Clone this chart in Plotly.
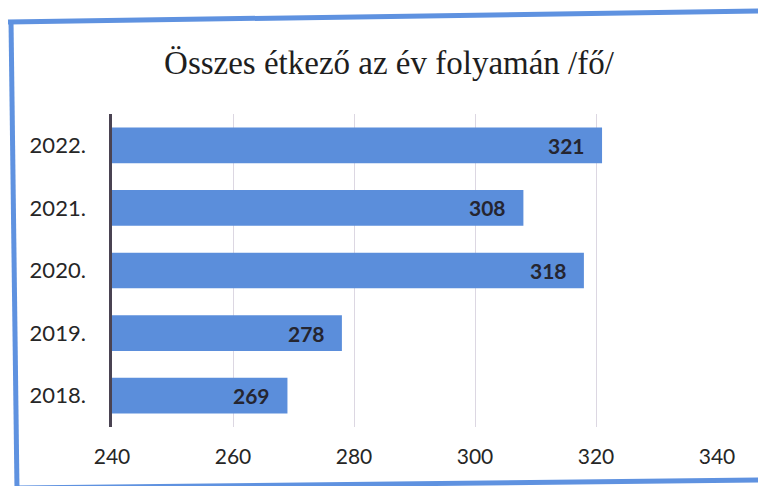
import plotly.graph_objects as go

# Data
years = ["2018.", "2019.", "2020.", "2021.", "2022."]
diners = [269, 278, 318, 308, 321]
x_ticks = [240, 260, 280, 300, 320, 340]

W, H = 758, 486
L, R, T, B = 112, 41, 114, 59

BAR = "#5b8edb"
FRAME = "#5f92e0"
TEXT = "#262626"

pos = list(range(len(years)))


def px(x):
    return (x - L) / (W - L - R)


def py(y):
    return 1 - (y - T) / (H - T - B)


fig = go.Figure(
    go.Bar(
        y=pos,
        x=diners,
        orientation="h",
        marker=dict(color=BAR, line=dict(width=0)),
        width=0.57,
        hoverinfo="skip",
    )
)

# value labels at the inner end of each bar
for p, v in zip(pos, diners):
    fig.add_annotation(
        x=v, y=p, xref="x", yref="y",
        text=f"<b>{v}</b>", showarrow=False,
        xanchor="right", xshift=-15,
        font=dict(family="Lato", size=21, color="#252530"),
    )

# blue frame around the chart
frame = dict(type="line", xref="paper", yref="paper",
             line=dict(color=FRAME, width=5), layer="above")
fig.add_shape(x0=px(8), y0=py(22), x1=px(760), y1=py(11), **frame)
fig.add_shape(x0=px(11), y0=py(20), x1=px(17), y1=py(490), **frame)
fig.add_shape(x0=px(15), y0=py(488), x1=px(760), y1=py(480), **frame)

fig.update_layout(
    width=W, height=H,
    margin=dict(l=L, r=R, t=T, b=B),
    paper_bgcolor="white",
    plot_bgcolor="white",
    showlegend=False,
    title=dict(
        text="Összes étkező az év folyamán /fő/",
        font=dict(family="Liberation Serif", size=33, color="#1e1e1e"),
        xref="container", yref="container",
        x=389 / W, y=1 - 62 / H, xanchor="center", yanchor="middle",
    ),
    xaxis=dict(
        range=[240, 340],
        tickvals=x_ticks,
        ticktext=[str(t) for t in x_ticks],
        showgrid=True, gridcolor="#dcd7e2", gridwidth=1,
        zeroline=False, showline=False, ticks="",
        ticklabelstandoff=15,
        tickfont=dict(family="Lato", size=21, color=TEXT),
        fixedrange=True,
    ),
    yaxis=dict(
        range=[-0.5, len(years) - 0.5],
        tickvals=pos, ticktext=years,
        showgrid=False, zeroline=False,
        showline=True, linecolor="#4a4352", linewidth=2.5,
        ticks="", ticklabelstandoff=19,
        tickfont=dict(family="Lato", size=22, color=TEXT),
        fixedrange=True,
    ),
)

fig.write_html("out.html")
